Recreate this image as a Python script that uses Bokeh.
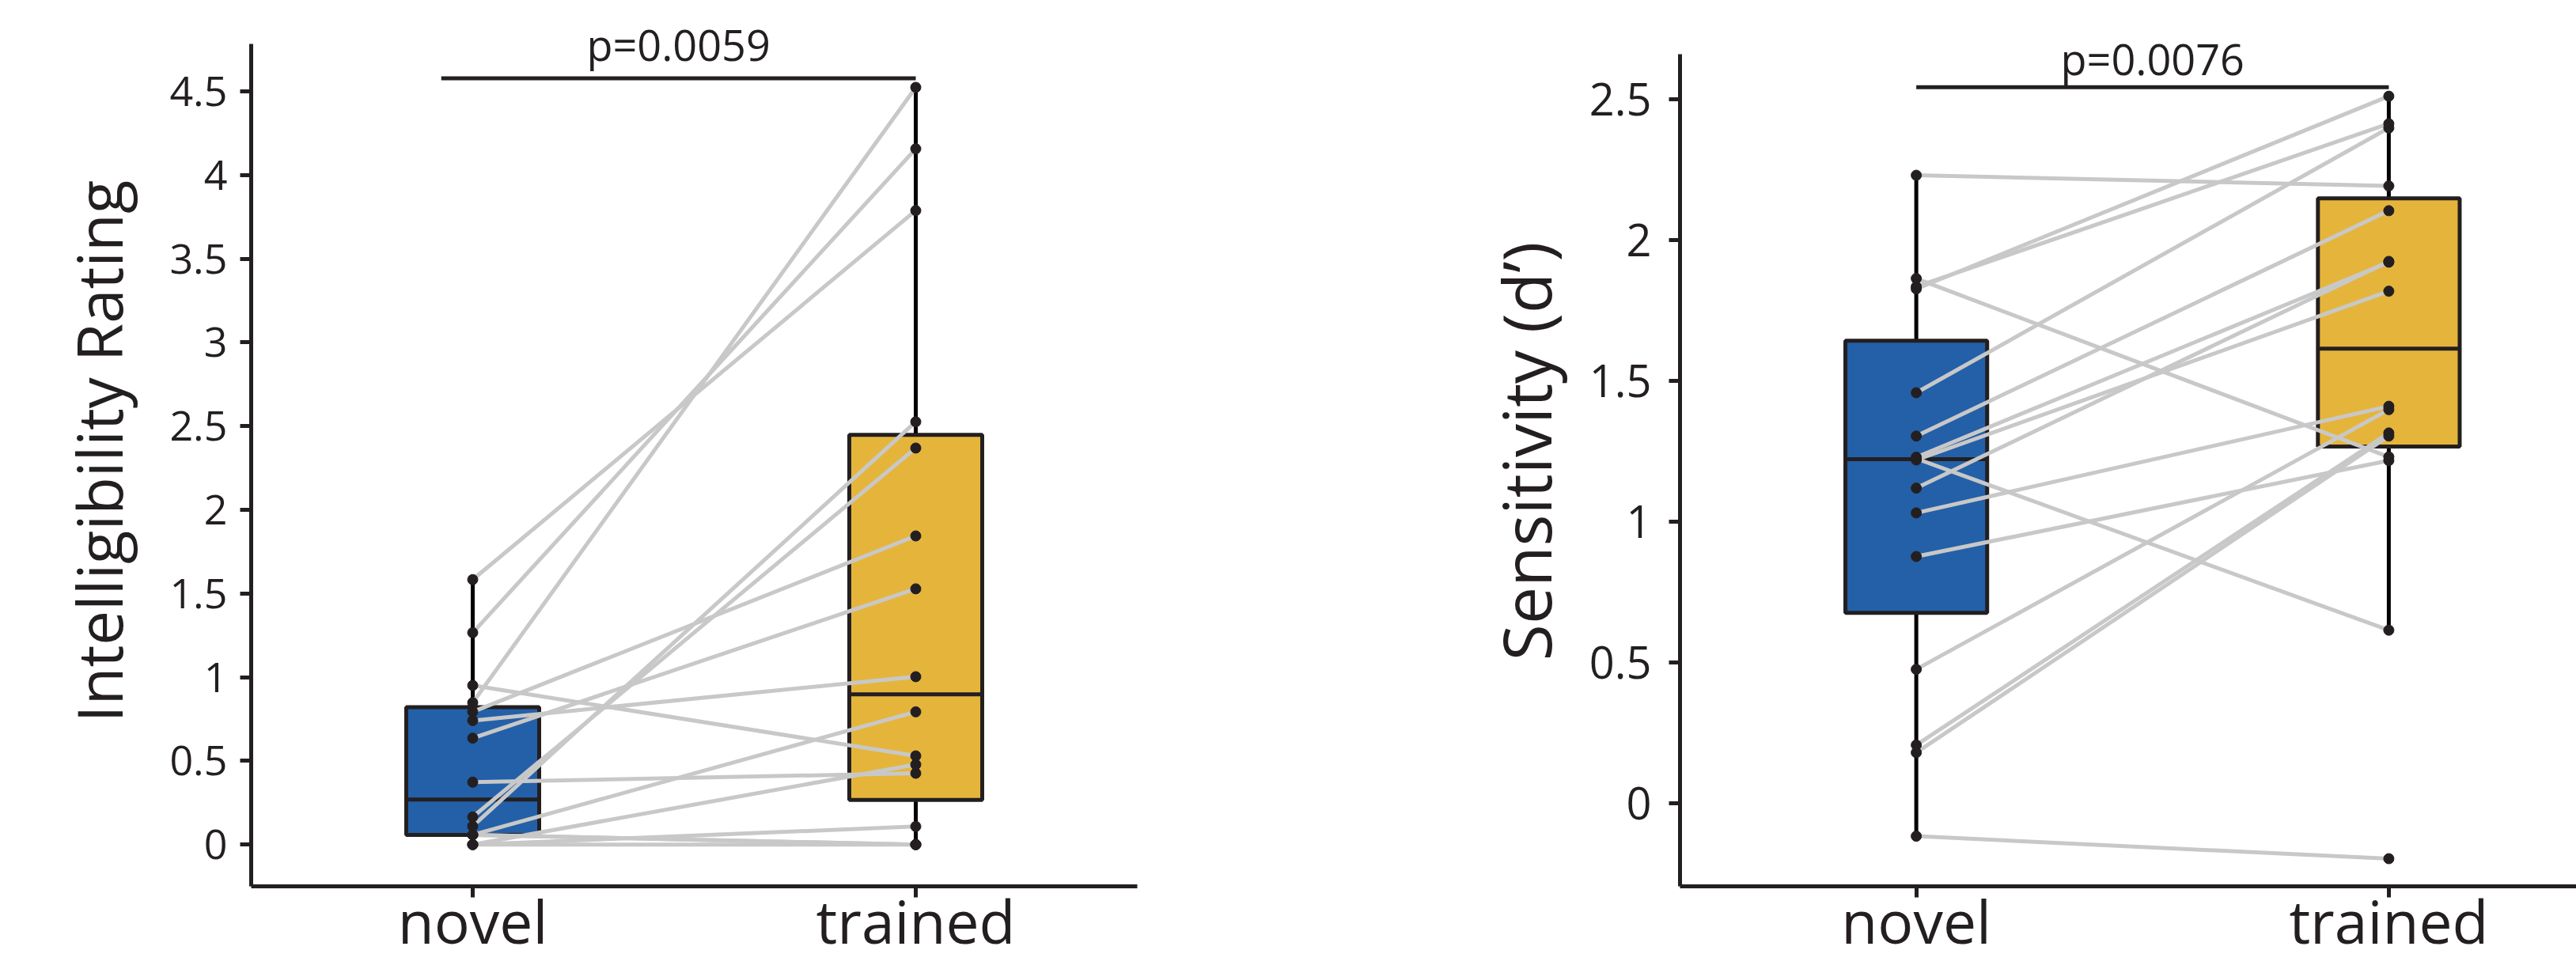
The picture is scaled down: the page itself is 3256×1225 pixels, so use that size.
from bokeh.plotting import figure
from bokeh.layouts import row
from bokeh.models import Range1d, FixedTicker, Label
from bokeh.embed import file_html
from bokeh.resources import INLINE
import numpy as np

# ---------------- data ----------------
categories = ["novel", "trained"]

# Intelligibility rating, one value per participant (paired)
intel_novel = [1.583, 1.266, 0.951, 0.848, 0.793, 0.741, 0.636, 0.373,
               0.165, 0.110, 0.058, 0.058, 0.058, 0.0, 0.0, 0.0]
intel_trained = [3.788, 4.157, 0.530, 4.524, 1.844, 1.003, 1.528, 0.426,
                 2.369, 2.526, 0.793, 0.0, 0.0, 0.478, 0.108, 0.0]

# Sensitivity (d'), one value per participant (paired)
sens_novel = [2.231, 1.864, 1.835, 1.827, 1.458, 1.304, 1.229, 1.224,
              1.219, 1.119, 1.031, 0.876, 0.475, 0.206, 0.179, -0.118]
sens_trained = [2.193, 1.230, 2.414, 2.512, 2.399, 2.105, 1.922, 0.614,
                1.819, 1.925, 1.410, 1.217, 1.398, 1.315, 1.304, -0.198]

intel_ticks = [0, 0.5, 1, 1.5, 2, 2.5, 3, 3.5, 4, 4.5]
sens_ticks = [0, 0.5, 1, 1.5, 2, 2.5]
p_labels = ["p=0.0059", "p=0.0076"]

# ---------------- styles ----------------
FONT = "Open Sans"
DARK = "#231F20"
BOX_COLORS = ["#2360A8", "#E5B53B"]
GREY = "#C8C8C8"
FIG_H = 1225
BORDER_TOP = 20
BORDER_BOTTOM = 105


def box_stats(vals):
    s = np.sort(np.asarray(vals, dtype=float))
    n = len(s)
    h = n // 2
    q1 = float(np.median(s[:h]))
    q3 = float(np.median(s[-h:]))
    med = float(np.median(s))
    iqr = q3 - q1
    lo = float(s[s >= q1 - 1.5 * iqr].min())
    hi = float(s[s <= q3 + 1.5 * iqr].max())
    return q1, med, q3, lo, hi


def make_panel(novel, trained, ticks, ylabel, ptext, yr, ytop, xr, width,
               border_left, border_right, bracket, ptext_y, tick_font,
               label_font, tick_standoff, label_standoff):
    p = figure(width=width, height=FIG_H, output_backend="svg",
               toolbar_location=None, x_range=Range1d(*xr),
               y_range=Range1d(*yr))
    p.min_border_left = border_left
    p.min_border_right = border_right
    p.min_border_top = BORDER_TOP
    p.min_border_bottom = BORDER_BOTTOM
    p.outline_line_color = None
    p.xgrid.visible = False
    p.ygrid.visible = False
    p.background_fill_color = "white"
    p.border_fill_color = "white"

    xs = [1, 2]
    stats = [box_stats(novel), box_stats(trained)]
    q1 = [s[0] for s in stats]
    med = [s[1] for s in stats]
    q3 = [s[2] for s in stats]
    lo = [s[3] for s in stats]
    hi = [s[4] for s in stats]

    # whiskers
    p.segment(x0=xs, y0=q3, x1=xs, y1=hi, line_color="black", line_width=5)
    p.segment(x0=xs, y0=q1, x1=xs, y1=lo, line_color="black", line_width=5)
    # boxes
    p.vbar(x=xs, width=0.3, bottom=q1, top=q3, fill_color=BOX_COLORS,
           line_color=DARK, line_width=5)
    p.segment(x0=[x - 0.15 for x in xs], y0=med, x1=[x + 0.15 for x in xs],
              y1=med, line_color=DARK, line_width=5)
    # paired lines
    n = len(novel)
    p.segment(x0=[1] * n, y0=novel, x1=[2] * n, y1=trained,
              line_color=GREY, line_width=5)
    # points
    p.scatter(x=[1] * n + [2] * n, y=list(novel) + list(trained), size=13,
              fill_color=DARK, line_color=DARK)

    # significance bracket
    p.segment(x0=[bracket[0]], y0=[bracket[2]], x1=[bracket[1]],
              y1=[bracket[2]], line_color=DARK, line_width=5)
    p.add_layout(Label(x=(bracket[0] + bracket[1]) / 2, y=ptext_y,
                       y_offset=15, text=ptext,
                       text_align="center", text_baseline="alphabetic",
                       text_font=FONT, text_font_size="54px",
                       text_color=DARK))

    # axes
    for ax in (p.xaxis[0], p.yaxis[0]):
        ax.axis_line_color = DARK
        ax.axis_line_width = 5
        ax.major_tick_line_color = DARK
        ax.major_tick_line_width = 5
        ax.major_tick_in = 0
        ax.major_tick_out = 14
        ax.minor_tick_in = 0
        ax.minor_tick_out = 0
        ax.major_label_text_font = FONT
        ax.major_label_text_color = DARK
    yax = p.yaxis[0]
    yax.bounds = (yr[0], ytop)
    yax.ticker = FixedTicker(ticks=ticks)
    yax.major_label_overrides = {float(t): "%g" % t for t in ticks}
    yax.major_label_text_font_size = tick_font
    yax.major_label_standoff = tick_standoff
    yax.axis_label = ylabel
    yax.axis_label_text_font = FONT
    yax.axis_label_text_font_size = label_font
    yax.axis_label_text_font_style = "normal"
    yax.axis_label_text_color = DARK
    yax.axis_label_standoff = label_standoff

    xax = p.xaxis[0]
    xax.ticker = FixedTicker(ticks=xs)
    xax.major_label_overrides = {1.0: categories[0], 2.0: categories[1]}
    xax.major_label_text_font_size = "75px"
    xax.major_label_standoff = -22
    return p


p1 = make_panel(intel_novel, intel_trained, intel_ticks,
                "Intelligibility Rating", p_labels[0],
                yr=(-0.2495, 4.9490), ytop=4.7836, xr=(0.5, 2.5), width=1608,
                border_left=317, border_right=171,
                bracket=(0.929, 2.0, 4.578), ptext_y=4.71,
                tick_font="52px", label_font="78px", tick_standoff=16,
                label_standoff=33)

p2 = make_panel(sens_novel, sens_trained, sens_ticks,
                "Sensitivity (d\u2019)", p_labels[1],
                yr=(-0.2963, 2.7962), ytop=2.6612, xr=(0.5, 2.397),
                width=1648, border_left=515, border_right=0,
                bracket=(1.0, 2.0, 2.544), ptext_y=2.605,
                tick_font="56px", label_font="84px", tick_standoff=22,
                label_standoff=20)

layout = row(p1, p2)
open("out.html", "w").write(file_html(layout, INLINE))
